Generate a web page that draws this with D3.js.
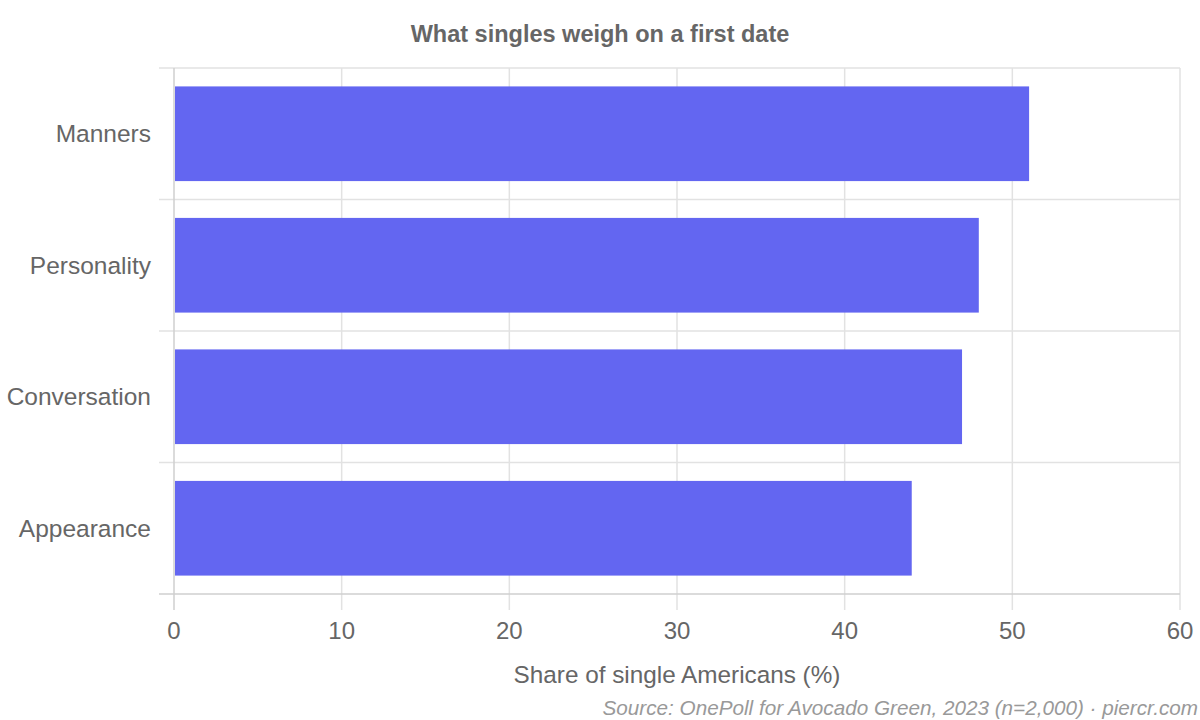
<!DOCTYPE html>
<html>
<head>
<meta charset="utf-8">
<script src="https://cdn.jsdelivr.net/npm/d3@7"></script>
<style>
  body { margin: 0; background: #fff; }
  text { font-family: "Liberation Sans", Arial, sans-serif; }
</style>
</head>
<body>
<script>
var categories = ["Manners", "Personality", "Conversation", "Appearance"];
var shares = [51, 48, 47, 44];
var xTicks = [0, 10, 20, 30, 40, 50, 60];

var W = 1200, H = 720;
var plotLeft = 174, plotRight = 1180, plotTop = 68, plotBottom = 594;

var svg = d3.select("body").append("svg")
    .attr("width", W)
    .attr("height", H);

var x = d3.scaleLinear().domain([0, 60]).range([plotLeft, plotRight]);
var y = d3.scaleBand().domain(categories).range([plotTop, plotBottom]).padding(0);

// grid
var grid = svg.append("g");
grid.selectAll("line.v")
  .data(xTicks.slice(1))
  .enter().append("line")
    .attr("x1", function(d){ return x(d); })
    .attr("x2", function(d){ return x(d); })
    .attr("y1", plotTop)
    .attr("y2", plotBottom + 16)
    .attr("stroke", "#e2e2e2")
    .attr("stroke-width", 1.5);

var bounds = categories.map(function(c){ return y(c); });
grid.selectAll("line.h")
  .data(bounds)
  .enter().append("line")
    .attr("x1", plotLeft - 15)
    .attr("x2", plotRight)
    .attr("y1", function(d){ return d; })
    .attr("y2", function(d){ return d; })
    .attr("stroke", "#e2e2e2")
    .attr("stroke-width", 1.5);

// bars
var bw = y.bandwidth();
svg.selectAll("rect.bar")
  .data(categories)
  .enter().append("rect")
    .attr("x", x(0) + 1)
    .attr("y", function(d){ return y(d) + bw * 0.14; })
    .attr("width", function(d, i){ return x(shares[i]) - x(0) - 1; })
    .attr("height", bw * 0.72)
    .attr("fill", "#6366f1");

// axis lines
svg.append("line")
    .attr("x1", plotLeft - 15).attr("x2", plotRight)
    .attr("y1", plotBottom).attr("y2", plotBottom)
    .attr("stroke", "#cfcfcf").attr("stroke-width", 1.5);
svg.append("line")
    .attr("x1", plotLeft).attr("x2", plotLeft)
    .attr("y1", plotTop).attr("y2", plotBottom + 16)
    .attr("stroke", "#cfcfcf").attr("stroke-width", 1.5);

// x tick labels
svg.selectAll("text.xt")
  .data(xTicks)
  .enter().append("text")
    .attr("x", function(d){ return x(d); })
    .attr("y", 639)
    .attr("text-anchor", "middle")
    .attr("font-size", 24)
    .attr("fill", "#666")
    .text(function(d){ return d; });

// y labels
svg.selectAll("text.yt")
  .data(categories)
  .enter().append("text")
    .attr("x", 151)
    .attr("y", function(d){ return y(d) + bw / 2; })
    .attr("dy", "0.35em")
    .attr("text-anchor", "end")
    .attr("font-size", 24.5)
    .attr("fill", "#666")
    .text(function(d){ return d; });

// title
svg.append("text")
    .attr("x", 600).attr("y", 42)
    .attr("text-anchor", "middle")
    .attr("font-size", 23.5)
    .attr("font-weight", "bold")
    .attr("fill", "#666")
    .text("What singles weigh on a first date");

// axis title
svg.append("text")
    .attr("x", (plotLeft + plotRight) / 2).attr("y", 683)
    .attr("text-anchor", "middle")
    .attr("font-size", 24.3)
    .attr("fill", "#666")
    .text("Share of single Americans (%)");

// source
svg.append("text")
    .attr("x", 1198).attr("y", 715)
    .attr("text-anchor", "end")
    .attr("font-size", 20.7)
    .attr("font-style", "italic")
    .attr("fill", "#999")
    .text("Source: OnePoll for Avocado Green, 2023 (n=2,000) · piercr.com");
</script>
</body>
</html>
